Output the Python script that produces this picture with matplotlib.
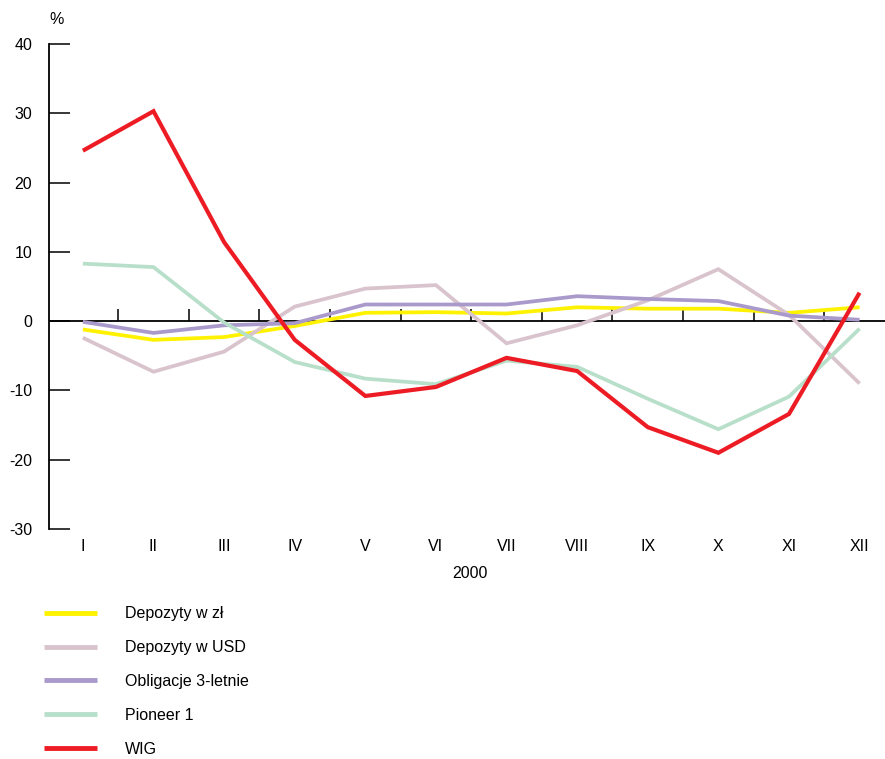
import matplotlib
matplotlib.use("Agg")
import matplotlib.pyplot as plt
from matplotlib import font_manager

months = ["I", "II", "III", "IV", "V", "VI", "VII", "VIII", "IX", "X", "XI", "XII"]
dep_zl = [-1.2, -2.7, -2.3, -0.7, 1.2, 1.3, 1.1, 2.0, 1.8, 1.8, 1.2, 2.0]
dep_usd = [-2.4, -7.3, -4.4, 2.1, 4.7, 5.2, -3.2, -0.6, 3.0, 7.5, 0.9, -9.0]
oblig = [-0.1, -1.7, -0.6, -0.3, 2.4, 2.4, 2.4, 3.6, 3.2, 2.9, 0.8, 0.2]
pioneer = [8.3, 7.8, -0.2, -5.9, -8.3, -9.1, -5.7, -6.6, -11.2, -15.6, -10.9, -1.1]
wig = [24.6, 30.3, 11.4, -2.7, -10.8, -9.5, -5.3, -7.2, -15.3, -19.0, -13.4, 4.1]
labels = ["Depozyty w zł", "Depozyty w USD", "Obligacje 3-letnie", "Pioneer 1", "WIG"]
colors = ["#FFF200", "#D9C3CC", "#A99ACB", "#B8DFCA", "#ED1C24"]
yticks = [-30, -20, -10, 0, 10, 20, 30, 40]

names = {f.name for f in font_manager.fontManager.ttflist}
fam = "Liberation Sans Narrow" if "Liberation Sans Narrow" in names else "Liberation Sans"
plt.rcParams['font.family'] = [fam, "DejaVu Sans"]
plt.rcParams['axes.unicode_minus'] = False

FS = 11.5
W, H = 885, 759
fig = plt.figure(figsize=(W / 100, H / 100), dpi=100)
ax = fig.add_axes([49 / W, 1 - 529 / H, 1 - 49 / W, (529 - 44) / H])

x = list(range(len(months)))
series = [dep_zl, dep_usd, oblig, pioneer, wig]
for s, c, lab in zip(series, colors, labels):
    lw = 3.0 if c == "#ED1C24" else 2.7
    ax.plot(x, s, color=c, lw=lw, label=lab, solid_capstyle="butt", solid_joinstyle="miter")

ax.set_xlim(-0.48, 11.36)
ax.set_ylim(-30, 40)

for sp in ["top", "right", "bottom"]:
    ax.spines[sp].set_visible(False)
ax.spines["left"].set_linewidth(1.3)
ax.set_yticks(yticks)
ax.tick_params(axis="y", direction="in", length=15, width=1.1, labelsize=FS, pad=12)

ax.set_xticks(x)
ax.set_xticklabels(months)
ax.tick_params(axis="x", length=0, labelsize=FS, pad=7)

# zero line with month-boundary ticks
ax.axhline(0, color="black", lw=1.3, zorder=1)
bounds = [i + 0.5 for i in range(len(months) - 1)]
ax.vlines(bounds, 0, 1.8, color="black", lw=1.1, zorder=1)

fig.text(57 / W, 1 - 20 / H, "%", ha="center", va="center", fontsize=FS)
fig.text(470 / W, 1 - 573 / H, "2000", ha="center", va="center", fontsize=FS)

leg = fig.legend(loc="upper left", bbox_to_anchor=(38 / W, 1 - 600 / H), frameon=False,
                 fontsize=FS, handlelength=3.3, handletextpad=1.75, labelspacing=1.18,
                 borderaxespad=0)
for h in leg.get_lines():
    h.set_linewidth(3.5)

fig.savefig("out.png", dpi=100)
